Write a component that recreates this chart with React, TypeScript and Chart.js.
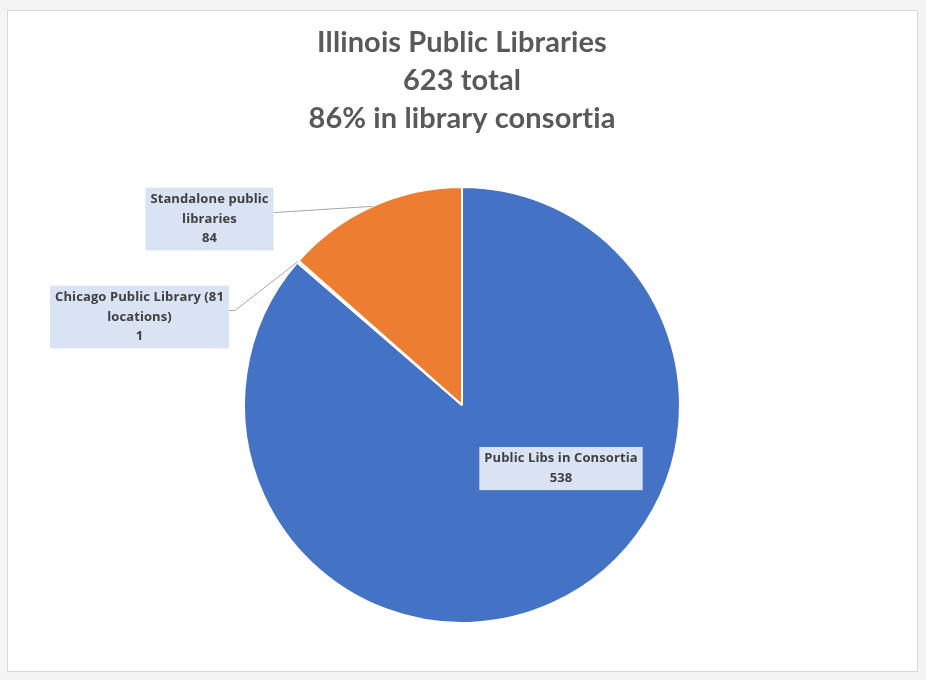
import React, { useEffect, useRef } from "react";
import { Chart, registerables } from "chart.js";

Chart.register(...registerables);

const titleLines = ["Illinois Public Libraries", "623 total", "86% in library consortia"];
const categories = ["Public Libs in Consortia", "Chicago Public Library (81 locations)", "Standalone public libraries"];
const values = [538, 1, 84];
const labelLines = [["Public Libs in Consortia"], ["Chicago Public Library (81", "locations)"], ["Standalone public", "libraries"]];
const colors = ["#4472C4", "#A5A5A5", "#ED7D31"];

// label box placement relative to pie centre (layout only)
const labelOffsets = [
  { dx: 99, dy: 63.5, leader: false, elbow: 0 },
  { dx: -322.5, dy: -88, leader: true, elbow: 6 },
  { dx: -252.5, dy: -186, leader: true, elbow: 0 },
];

const FONT = "Lato, 'Open Sans', sans-serif";
const LABEL_FONT = "'Open Sans', 'Noto Sans', sans-serif";

const noLigatures = {
  id: "noLigatures",
  beforeDraw(chart: any) {
    try {
      chart.ctx.letterSpacing = "0.1px";
    } catch (e) {}
  },
};

const labelPlugin = {
  id: "boxLabels",
  afterDatasetsDraw(chart: any) {
    const ctx = chart.ctx;
    const meta = chart.getDatasetMeta(0);
    const lh = 19.6;
    ctx.save();
    ctx.font = `bold 13px ${LABEL_FONT}`;
    meta.data.forEach((arc: any, i: number) => {
      const p = arc.getProps(["x", "y", "startAngle", "endAngle", "outerRadius"], true);
      const lines = [...labelLines[i], String(values[i])];
      const w = Math.max(...lines.map((l) => ctx.measureText(l).width)) + 10;
      const h = lines.length * lh + 4;
      const off = labelOffsets[i];
      const cx = p.x + off.dx;
      const cy = p.y + off.dy;
      const left = cx - w / 2;
      const top = cy - h / 2;
      if (off.leader) {
        const mid = (p.startAngle + p.endAngle) / 2;
        const ex = p.x + Math.cos(mid) * p.outerRadius;
        const ey = p.y + Math.sin(mid) * p.outerRadius;
        const sy = cy - 6.5;
        ctx.strokeStyle = "#A6A6A6";
        ctx.lineWidth = 1;
        ctx.beginPath();
        ctx.moveTo(left + w, sy);
        if (off.elbow) ctx.lineTo(left + w + off.elbow, sy);
        ctx.lineTo(ex, ey);
        ctx.stroke();
      }
      ctx.fillStyle = "#DAE3F3";
      ctx.fillRect(left, top, w, h);
      ctx.fillStyle = "#404040";
      ctx.textAlign = "center";
      ctx.textBaseline = "middle";
      lines.forEach((l, j) => {
        ctx.fillText(l, cx, top + 2 + lh * (j + 0.5));
      });
    });
    ctx.restore();
  },
};

export default function App() {
  const ref = useRef<HTMLCanvasElement>(null);
  useEffect(() => {
    document.body.style.margin = "0";
    const chart = new Chart(ref.current!, {
      type: "pie",
      data: {
        labels: categories,
        datasets: [
          {
            data: values,
            backgroundColor: colors,
            borderColor: "#FFFFFF",
            borderWidth: 2,
            hoverOffset: 0,
          },
        ],
      },
      options: {
        animation: false,
        responsive: false,
        layout: { padding: { top: 0, bottom: 56, left: 0, right: 2 } },
        plugins: {
          legend: { display: false },
          tooltip: { enabled: false },
          title: {
            display: true,
            text: titleLines,
            color: "#595959",
            font: { family: FONT, size: 29, weight: "bold", lineHeight: 1.3 },
            padding: { top: 24, bottom: 49 },
          },
        },
      },
      plugins: [noLigatures, labelPlugin],
    });
    return () => chart.destroy();
  }, []);
  return (
    <div style={{ position: "relative", width: 926, height: 680, background: "#F4F4F4", overflow: "hidden" }}>
      <div
        style={{
          position: "absolute",
          left: 7,
          top: 10,
          width: 909,
          height: 660,
          background: "#FFFFFF",
          border: "1px solid #D9D9D9",
        }}
      />
      <canvas ref={ref} width={926} height={680} style={{ position: "absolute", left: 0, top: 0 }} />
    </div>
  );
}
